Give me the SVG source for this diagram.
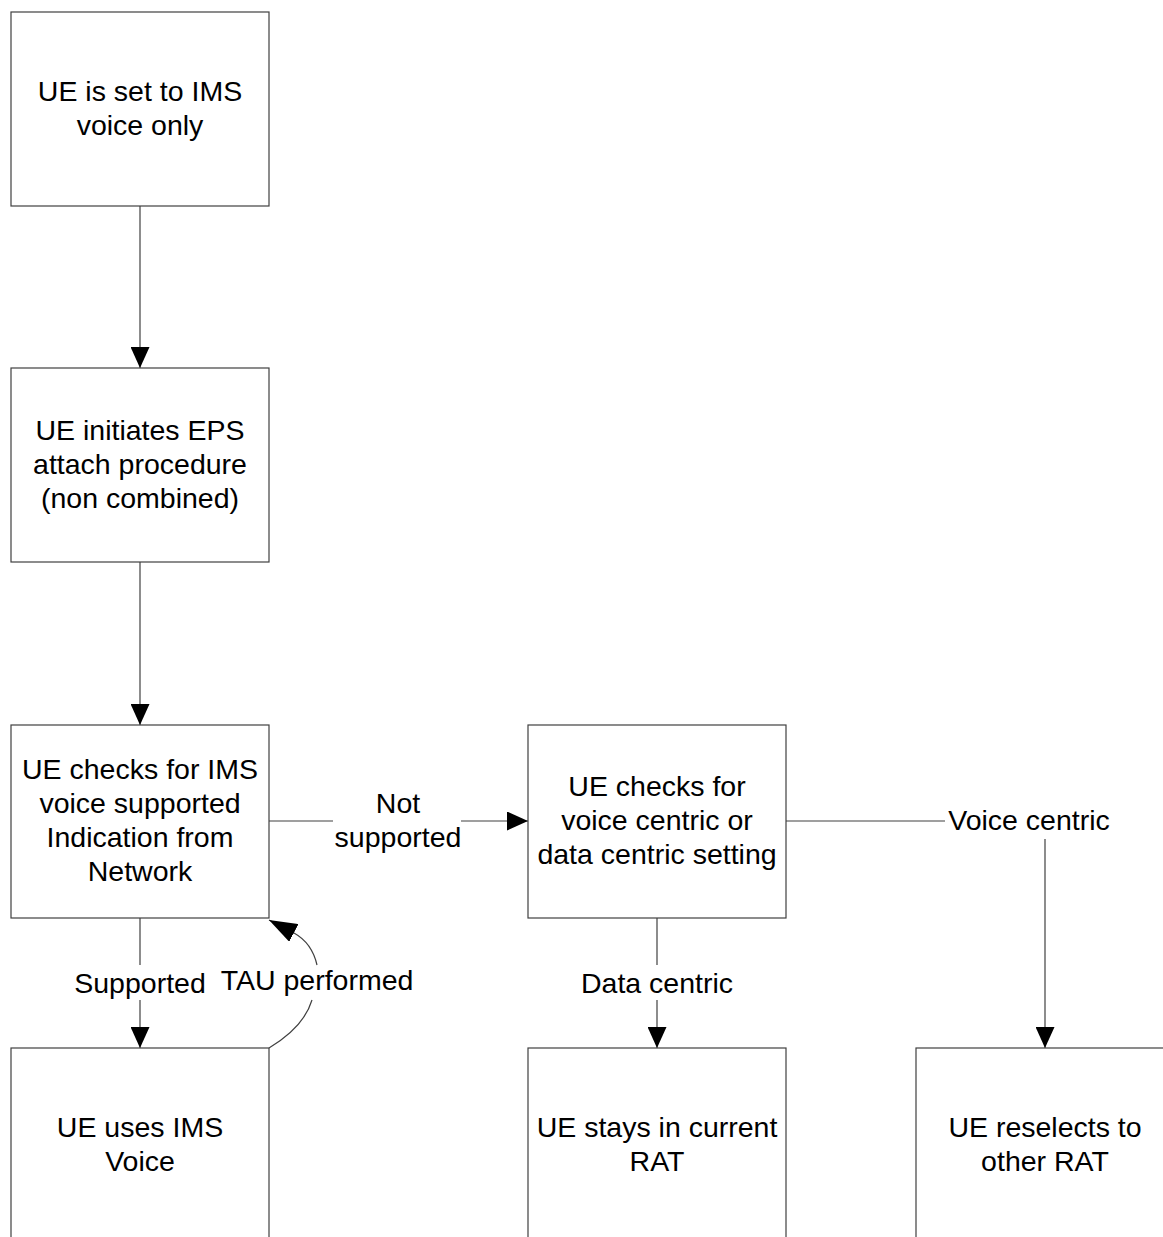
<svg xmlns="http://www.w3.org/2000/svg" width="1163" height="1237" viewBox="0 0 1163 1237">
<style>
.box{fill:#fff;stroke:#404040;stroke-width:1.2}
.ln{fill:none;stroke:#404040;stroke-width:1.2}
text{font-family:"Liberation Sans",Arial,sans-serif;font-size:28.5px;fill:#000;text-anchor:middle}
</style>
<defs>
<marker id="ah" markerUnits="userSpaceOnUse" markerWidth="21" markerHeight="19" viewBox="0 0 21 19" refX="21" refY="9.5" orient="auto">
<path d="M0,0 L21,9.5 L0,19 z" fill="#000"/>
</marker>
<marker id="ah2" markerUnits="userSpaceOnUse" markerWidth="28" markerHeight="20" viewBox="0 0 28 20" refX="28" refY="10" orient="auto">
<path d="M0,0 L28,10 L0,20 z" fill="#000"/>
</marker>
</defs>
<rect width="1163" height="1237" fill="#fff"/>
<g id="connectors">
<line class="ln" x1="140" y1="206" x2="140" y2="368" marker-end="url(#ah)"/>
<line class="ln" x1="140" y1="562" x2="140" y2="725" marker-end="url(#ah)"/>
<line class="ln" x1="269" y1="821" x2="333" y2="821"/>
<line class="ln" x1="461" y1="821" x2="528" y2="821" marker-end="url(#ah)"/>
<line class="ln" x1="786" y1="821" x2="945" y2="821"/>
<line class="ln" x1="1045" y1="839" x2="1045" y2="1048" marker-end="url(#ah)"/>
<line class="ln" x1="657" y1="918" x2="657" y2="965"/>
<line class="ln" x1="657" y1="1000" x2="657" y2="1048" marker-end="url(#ah)"/>
<line class="ln" x1="140" y1="918" x2="140" y2="965"/>
<line class="ln" x1="140" y1="1000" x2="140" y2="1048" marker-end="url(#ah)"/>
<path class="ln" d="M269,1048 Q304,1027 312,1000"/>
<path class="ln" d="M317,965 Q312,943 294,933 L269,920" marker-end="url(#ah2)"/>
<text x="398" y="813">Not</text>
<text x="398" y="847">supported</text>
<text x="1029" y="830">Voice centric</text>
<text x="140" y="993">Supported</text>
<text x="317" y="990">TAU performed</text>
<text x="657" y="993">Data centric</text>
</g>
<g id="n1">
<rect class="box" x="11" y="12" width="258" height="194"/>
<text x="140" y="101">UE is set to IMS</text>
<text x="140" y="135">voice only</text>
</g>
<g id="n2">
<rect class="box" x="11" y="368" width="258" height="194"/>
<text x="140" y="440">UE initiates EPS</text>
<text x="140" y="474">attach procedure</text>
<text x="140" y="508">(non combined)</text>
</g>
<g id="n3">
<rect class="box" x="11" y="725" width="258" height="193"/>
<text x="140" y="779">UE checks for IMS</text>
<text x="140" y="813">voice supported</text>
<text x="140" y="847">Indication from</text>
<text x="140" y="881">Network</text>
</g>
<g id="n4">
<rect class="box" x="528" y="725" width="258" height="193"/>
<text x="657" y="796">UE checks for</text>
<text x="657" y="830">voice centric or</text>
<text x="657" y="864">data centric setting</text>
</g>
<g id="n5">
<rect class="box" x="11" y="1048" width="258" height="250"/>
<text x="140" y="1137">UE uses IMS</text>
<text x="140" y="1171">Voice</text>
</g>
<g id="n6">
<rect class="box" x="528" y="1048" width="258" height="250"/>
<text x="657" y="1137">UE stays in current</text>
<text x="657" y="1171">RAT</text>
</g>
<g id="n7">
<rect class="box" x="916" y="1048" width="300" height="250"/>
<text x="1045" y="1137">UE reselects to</text>
<text x="1045" y="1171">other RAT</text>
</g>
</svg>
